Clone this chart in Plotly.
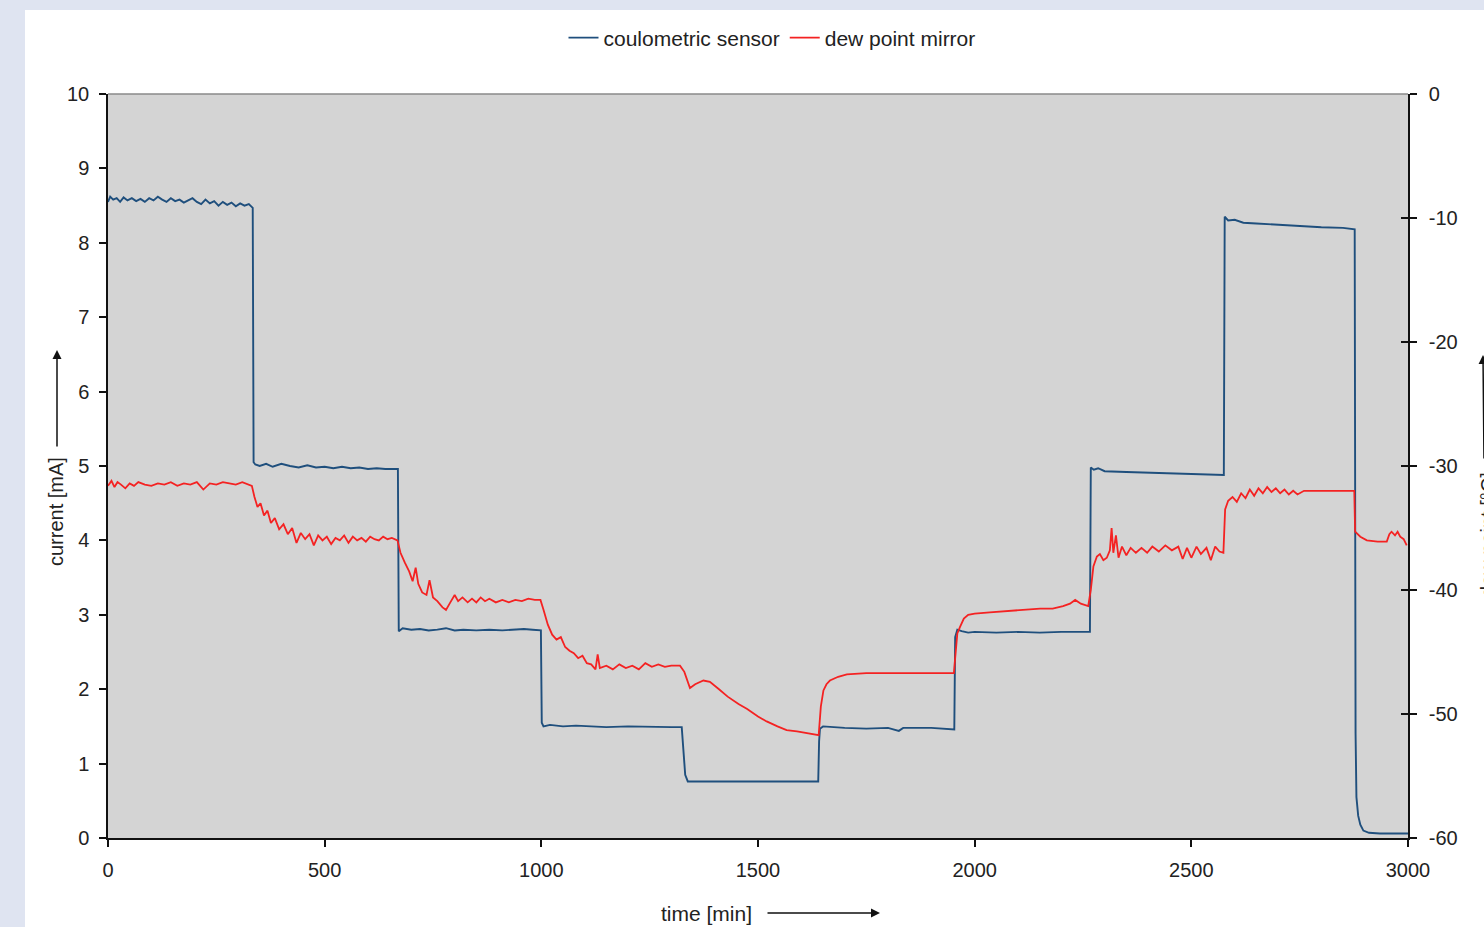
import plotly.graph_objects as go

# ---------------- data ----------------
x_ticks = [0, 500, 1000, 1500, 2000, 2500, 3000]
left_ticks = [0, 1, 2, 3, 4, 5, 6, 7, 8, 9, 10]
right_ticks = [-60, -50, -40, -30, -20, -10, 0]
right_tick_labels = ["-60", "-50", "-40", "-30", "-20", "-10", "0"]

sensor_time = [0, 5, 12, 20, 28, 36, 45, 55, 65, 75, 85, 95, 105, 115, 125, 135, 145, 155, 165, 175,
               185, 195, 205, 215, 225, 235, 245, 255, 265, 275, 285, 295, 305, 315, 325, 334,
               336, 340, 350, 365, 380, 400, 420, 440, 460, 480, 500, 520, 540, 560, 580, 600, 620, 640, 669,
               671, 680, 700, 720, 740, 760, 780, 800, 820, 850, 880, 910, 940, 960, 980, 999,
               1001, 1005, 1020, 1050, 1080, 1110, 1150, 1200, 1250, 1300, 1324,
               1327, 1332, 1338, 1400, 1500, 1600, 1639,
               1641, 1643, 1650, 1670, 1700, 1750, 1800, 1825, 1835, 1900, 1953,
               1955, 1960, 1970, 1985, 2000, 2050, 2100, 2150, 2200, 2266,
               2268, 2275, 2285, 2300, 2350, 2400, 2450, 2500, 2550, 2575,
               2577, 2585, 2600, 2620, 2650, 2700, 2750, 2800, 2850, 2877,
               2879, 2881, 2885, 2890, 2897, 2910, 2935, 3000]
sensor_current = [8.55, 8.62, 8.58, 8.6, 8.55, 8.61, 8.57, 8.6, 8.56, 8.59, 8.55, 8.6, 8.57, 8.62, 8.58, 8.55, 8.6, 8.56, 8.58, 8.54,
                  8.57, 8.6, 8.55, 8.52, 8.58, 8.53, 8.56, 8.5, 8.55, 8.51, 8.54, 8.49, 8.53, 8.5, 8.52, 8.47,
                  5.05, 5.02, 5.0, 5.03, 4.99, 5.03, 5.0, 4.98, 5.01, 4.98, 4.99, 4.97, 4.99, 4.97, 4.98, 4.96, 4.97, 4.96, 4.96,
                  2.78, 2.82, 2.8, 2.81, 2.79, 2.8, 2.82, 2.79, 2.8, 2.79, 2.8, 2.79, 2.8, 2.81, 2.8, 2.79,
                  1.55, 1.5, 1.52, 1.5, 1.51, 1.5, 1.49, 1.5, 1.49, 1.49, 1.49,
                  1.2, 0.85, 0.76, 0.76, 0.76, 0.76, 0.76,
                  1.3, 1.47, 1.5, 1.49, 1.48, 1.47, 1.48, 1.44, 1.48, 1.48, 1.46,
                  2.7, 2.8, 2.78, 2.76, 2.77, 2.76, 2.77, 2.76, 2.77, 2.77,
                  4.98, 4.95, 4.97, 4.93, 4.92, 4.91, 4.9, 4.89, 4.88, 4.88,
                  8.35, 8.3, 8.31, 8.27, 8.26, 8.24, 8.22, 8.21, 8.2, 8.18,
                  1.4, 0.55, 0.3, 0.18, 0.1, 0.07, 0.06, 0.06]

mirror_time = [0, 8, 15, 22, 30, 40, 50, 60, 70, 85, 100, 115, 130, 145, 160, 175, 190, 205, 220, 235, 250, 265, 280, 295, 310, 325, 332,
               338, 345, 352, 360, 368, 376, 385, 395, 405, 415, 425, 435, 445, 455, 465, 475, 485, 495, 505, 515, 525, 535, 545, 555,
               565, 575, 585, 595, 605, 615, 625, 635, 645, 655, 668,
               675, 685, 695, 703, 710, 716, 725, 735, 742, 750, 760, 772, 780, 790, 800, 808, 818, 830, 840, 850, 860, 870, 880,
               895, 910, 925, 940, 955, 970, 985, 998,
               1005, 1015, 1025, 1035, 1045, 1055, 1065, 1075, 1085, 1095, 1105, 1115, 1125, 1130, 1135, 1150, 1165, 1180, 1195,
               1210, 1225, 1240, 1255, 1270, 1285, 1300, 1320,
               1330, 1343, 1355, 1374, 1389, 1410, 1430, 1455, 1475, 1500, 1520, 1545, 1566, 1590, 1605, 1620, 1640,
               1645, 1651, 1658, 1666, 1685, 1705, 1750, 1800, 1850, 1900, 1952,
               1955, 1960, 1966, 1975, 1985, 2000, 2035, 2080, 2120, 2151, 2180, 2204, 2220, 2232, 2245, 2262,
               2268, 2274, 2282, 2289, 2297, 2305, 2312, 2316, 2320, 2326, 2332, 2340, 2350, 2360, 2372, 2385, 2398, 2410, 2425,
               2440, 2455, 2470, 2480, 2490, 2500, 2512, 2522, 2535, 2545, 2555, 2565, 2574,
               2578, 2585, 2595, 2605, 2615, 2625, 2635, 2645, 2655, 2665, 2675, 2685, 2695, 2705, 2715, 2725, 2735, 2745, 2760,
               2800, 2840, 2876,
               2878, 2890, 2905, 2930, 2951, 2957, 2962, 2970, 2976, 2982, 2990, 2997]
mirror_dewpoint = [-31.6, -31.2, -31.7, -31.3, -31.5, -31.8, -31.4, -31.6, -31.3, -31.5, -31.6, -31.4, -31.5, -31.3, -31.6, -31.4, -31.5,
                   -31.3, -31.9, -31.4, -31.5, -31.3, -31.4, -31.5, -31.3, -31.5, -31.6,
                   -32.5, -33.3, -33.0, -34.0, -33.6, -34.6, -34.2, -35.1, -34.7, -35.5, -35.0, -36.2, -35.4, -35.9, -35.5, -36.4,
                   -35.6, -36.0, -35.7, -36.3, -35.8, -36.0, -35.6, -36.2,
                   -35.7, -36.0, -35.8, -36.1, -35.7, -35.9, -36.0, -35.7, -35.9, -35.8, -36.0,
                   -37.0, -37.8, -38.5, -39.3, -38.2, -39.5, -40.2, -40.4, -39.2, -40.6, -40.9, -41.4, -41.6, -41.0, -40.4, -40.9,
                   -40.6, -41.0, -40.7, -41.0, -40.6, -40.9, -40.7,
                   -41.0, -40.8, -41.0, -40.8, -40.9, -40.7, -40.8, -40.8,
                   -41.6, -42.8, -43.6, -44.0, -43.8, -44.6, -44.9, -45.1, -45.5, -45.3, -45.9, -46.0, -46.4, -45.2, -46.3, -46.1,
                   -46.4, -46.0, -46.3,
                   -46.1, -46.4, -45.9, -46.2, -46.0, -46.2, -46.1, -46.1,
                   -46.6, -47.9, -47.6, -47.3, -47.4, -48.0, -48.6, -49.2, -49.6, -50.2, -50.6, -51.0, -51.3, -51.4, -51.5, -51.6, -51.7,
                   -49.4, -48.1, -47.6, -47.3, -47.0, -46.8, -46.7, -46.7, -46.7, -46.7, -46.7,
                   -45.5, -43.5, -43.0, -42.3, -42.0, -41.9, -41.8, -41.7, -41.6, -41.5, -41.5, -41.3, -41.1, -40.8, -41.1, -41.3,
                   -40.0, -38.1, -37.3, -37.1, -37.6, -37.4, -36.8, -35.0, -37.0, -35.6, -37.4, -36.5, -37.2, -36.6, -37.0, -36.6,
                   -37.0, -36.5, -36.9,
                   -36.4, -36.8, -36.5, -37.5, -36.6, -37.4, -36.5, -37.1, -36.6, -37.6, -36.5, -36.9, -37.0,
                   -33.5, -32.8, -32.5, -32.9, -32.2, -32.6, -31.9, -32.4, -31.8, -32.2, -31.7, -32.1, -31.8, -32.2, -31.9, -32.3,
                   -32.0, -32.3, -32.0,
                   -32.0, -32.0, -32.0,
                   -35.3, -35.7, -36.0, -36.1, -36.1, -35.5, -35.3, -35.6, -35.3, -35.7, -35.9, -36.4]

# ---------------- figure ----------------
W, H = 1484, 927
L, R, T, B = 108, 76, 94, 89
pw, ph = W - L - R, H - T - B


def px(xp):
    return (xp - L) / pw


def py(yp):
    return (H - B - yp) / ph


FONT = "Liberation Sans, Arial, sans-serif"
TXT = "#222"
BLUE = "#1f4f7d"
RED = "#f42222"

fig = go.Figure()
fig.add_trace(go.Scatter(x=sensor_time, y=sensor_current, mode="lines", name="coulometric sensor",
                         line=dict(color=BLUE, width=1.9), yaxis="y"))
fig.add_trace(go.Scatter(x=mirror_time, y=mirror_dewpoint, mode="lines", name="dew point mirror",
                         line=dict(color=RED, width=1.8), yaxis="y2"))

axis_common = dict(showgrid=False, zeroline=False, showline=True, linecolor="#111", linewidth=1.5,
                   ticks="outside", ticklen=7, tickwidth=1.5, tickcolor="#111",
                   tickfont=dict(family=FONT, size=20, color=TXT))

fig.update_layout(
    width=W, height=H,
    margin=dict(l=L, r=R, t=T, b=B, pad=0),
    paper_bgcolor="#dfe4f1",
    plot_bgcolor="rgba(0,0,0,0)",
    showlegend=True,
    legend=dict(orientation="h", x=px(772), xanchor="center", y=py(38), yanchor="middle",
                font=dict(family=FONT, size=21, color=TXT), bgcolor="rgba(0,0,0,0)",
                itemwidth=30, tracegroupgap=0),
    xaxis=dict(range=[0, 3000], tickvals=x_ticks, ticklabelstandoff=6, **axis_common),
    yaxis=dict(range=[0, 10], tickvals=left_ticks, ticklabelstandoff=6, **axis_common),
    yaxis2=dict(range=[-60, 0], tickvals=right_ticks, ticktext=right_tick_labels, overlaying="y",
                side="right", ticklabelstandoff=8, **axis_common),
    yaxis3=dict(range=[-60, 0], tickvals=right_ticks, overlaying="y", side="right", showgrid=False,
                zeroline=False, showline=False, ticks="inside", ticklen=7, tickwidth=1.5, tickcolor="#111",
                showticklabels=False),
    shapes=[
        dict(type="rect", xref="paper", yref="paper", x0=px(25), x1=1.2, y0=-0.3, y1=py(10),
             fillcolor="white", line=dict(width=0), layer="below"),
        dict(type="rect", xref="paper", yref="paper", x0=0, x1=1, y0=0, y1=1,
             fillcolor="#d4d4d4", line=dict(width=0), layer="below"),
        dict(type="line", xref="paper", yref="paper", x0=0, x1=1, y0=1, y1=1,
             line=dict(color="#8a8a8a", width=1.5)),
    ],
    annotations=[
        dict(text="current [mA]", xref="paper", yref="paper", x=px(56), y=py(512), textangle=-90,
             showarrow=False, font=dict(family=FONT, size=20, color=TXT), xanchor="center", yanchor="middle"),
        dict(text="", xref="paper", yref="paper", x=px(57), y=py(350), ax=0, ay=98,
             showarrow=True, arrowhead=2, arrowsize=1.2, arrowwidth=1.5, arrowcolor="#111"),
        dict(text="time [min]", xref="paper", yref="paper", x=px(706), y=py(913),
             showarrow=False, font=dict(family=FONT, size=21, color=TXT), xanchor="center", yanchor="middle"),
        dict(text="", xref="paper", yref="paper", x=px(880), y=py(913), ax=-114, ay=0,
             showarrow=True, arrowhead=2, arrowsize=1.2, arrowwidth=1.5, arrowcolor="#111"),
        dict(text="dew point [°C]", xref="paper", yref="paper", x=px(1488), y=py(535), textangle=-90,
             showarrow=False, font=dict(family=FONT, size=20, color=TXT), xanchor="center", yanchor="middle"),
        dict(text="", xref="paper", yref="paper", x=px(1488), y=py(355), ax=0, ay=105,
             showarrow=True, arrowhead=2, arrowsize=1.2, arrowwidth=1.5, arrowcolor="#111"),
    ],
)

# a dummy invisible trace so the tick-only overlay axis is drawn
fig.add_trace(go.Scatter(x=[None], y=[None], yaxis="y3", showlegend=False, hoverinfo="skip"))

fig.write_html("out.html", post_script="document.body.style.margin='0';",
               config={"displayModeBar": False})
